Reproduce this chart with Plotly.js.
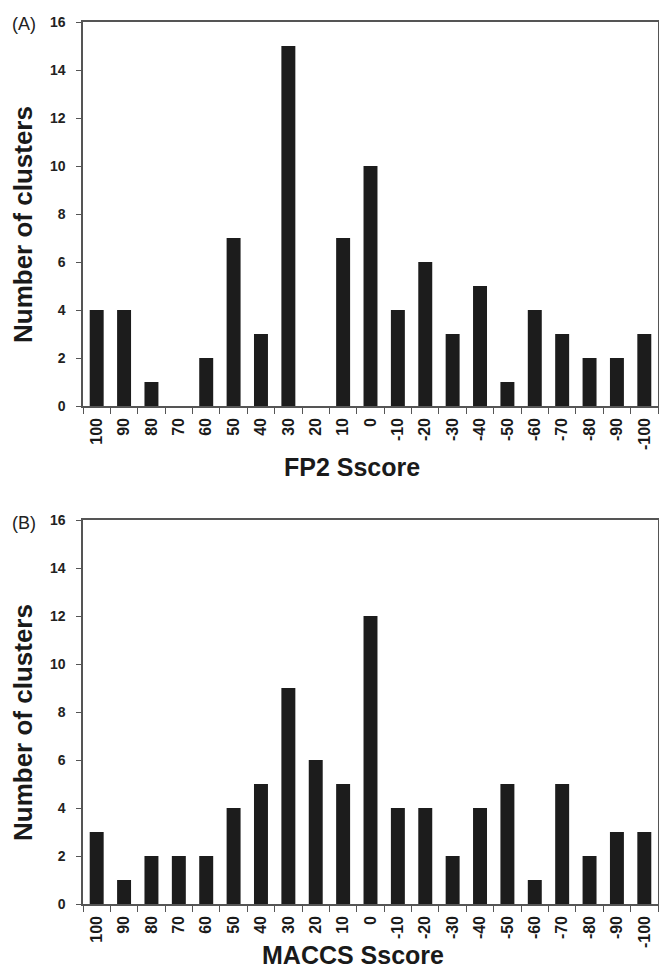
<!DOCTYPE html>
<html><head><meta charset="utf-8">
<script src="https://cdn.plot.ly/plotly-3.0.1.min.js"></script>
<style>body{margin:0;background:#fff}#c{width:659px;height:970px}</style>
</head><body><div id="c"></div>
<script>
const categories = ["100","90","80","70","60","50","40","30","20","10","0","-10","-20","-30","-40","-50","-60","-70","-80","-90","-100"];
const fp2Counts = [4,4,1,0,2,7,3,15,0,7,10,4,6,3,5,1,4,3,2,2,3];
const maccsCounts = [3,1,2,2,2,4,5,9,6,5,12,4,4,2,4,5,1,5,2,3,3];
const yTicks = [0,2,4,6,8,10,12,14,16];

const barColor = '#1c1c1c';
const F = 'Liberation Sans, Arial, sans-serif';

const traces = [
  {type:'bar', x:categories, y:fp2Counts, xaxis:'x', yaxis:'y', marker:{color:barColor}, hoverinfo:'none'},
  {type:'bar', x:categories, y:maccsCounts, xaxis:'x2', yaxis:'y2', marker:{color:barColor}, hoverinfo:'none'}
];

function xa(anchor){
  return {domain:[83/659, 658/659], anchor:anchor, type:'category', tickangle:-90,
    showline:true, mirror:true, linecolor:'#555', linewidth:1.6,
    ticks:'outside', tickson:'boundaries', ticklen:6, tickcolor:'#555', ticklabelstandoff:4,
    tickfont:{family:F, size:16, color:'#1a1a1a', weight:'bold'}, showgrid:false, fixedrange:true};
}
function ya(anchor, dom){
  return {domain:dom, anchor:anchor, range:[0,16], tickvals:yTicks, ticktext:yTicks.map(String),
    showline:true, mirror:true, linecolor:'#555', linewidth:1.6,
    ticks:'outside', ticklen:5, tickcolor:'#555', zeroline:false, showgrid:false, ticklabelstandoff:8,
    tickfont:{family:F, size:14, color:'#222', weight:'bold'}};
}

const layout = {
  width:659, height:970, margin:{l:0,r:0,t:0,b:0}, showlegend:false,
  paper_bgcolor:'#fff', plot_bgcolor:'#fff', bargap:0.49,
  xaxis: xa('y'), yaxis: ya('x', [1-406/970, 1-22/970]),
  xaxis2: xa('y2'), yaxis2: ya('x2', [1-904/970, 1-520/970]),
  annotations:[
    {text:'(A)', x:10/659, y:1-24/970, xref:'paper', yref:'paper', xanchor:'left', yanchor:'middle', showarrow:false, font:{family:F, size:18, color:'#222'}},
    {text:'(B)', x:10/659, y:1-523/970, xref:'paper', yref:'paper', xanchor:'left', yanchor:'middle', showarrow:false, font:{family:F, size:18, color:'#222'}},
    {text:'Number of clusters', x:23/659, y:1-225/970, xref:'paper', yref:'paper', textangle:-90, showarrow:false, xanchor:'center', yanchor:'middle', font:{family:F, size:26, color:'#1a1a1a', weight:'bold'}},
    {text:'Number of clusters', x:23/659, y:1-723/970, xref:'paper', yref:'paper', textangle:-90, showarrow:false, xanchor:'center', yanchor:'middle', font:{family:F, size:26, color:'#1a1a1a', weight:'bold'}},
    {text:'FP2 Sscore', x:352/659, y:1-467/970, xref:'paper', yref:'paper', showarrow:false, xanchor:'center', yanchor:'middle', font:{family:F, size:25, color:'#1a1a1a', weight:'bold'}},
    {text:'MACCS Sscore', x:353/659, y:1-955/970, xref:'paper', yref:'paper', showarrow:false, xanchor:'center', yanchor:'middle', font:{family:F, size:25, color:'#1a1a1a', weight:'bold'}}
  ]
};
Plotly.newPlot('c', traces, layout, {staticPlot:true, displayModeBar:false});
</script></body></html>
